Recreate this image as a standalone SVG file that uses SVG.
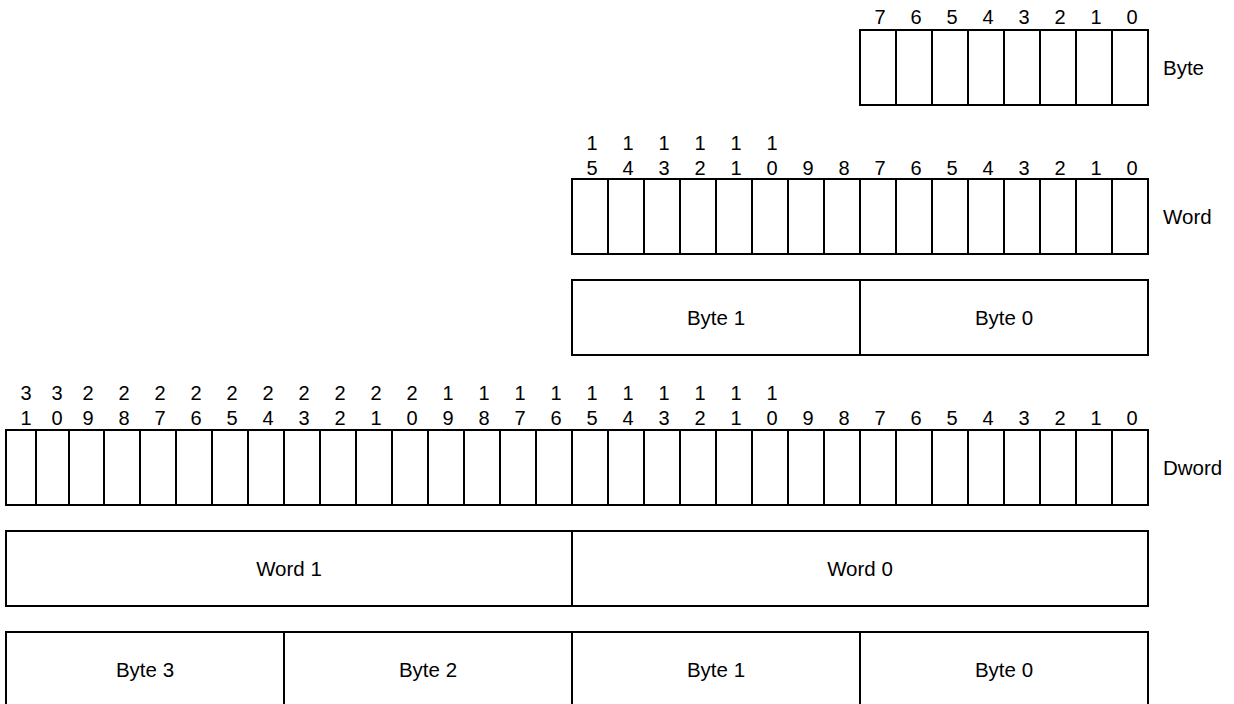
<svg xmlns="http://www.w3.org/2000/svg" width="1234" height="704" viewBox="0 0 1234 704">
<style>
.c{fill:#fff;stroke:#000;stroke-width:2}
.l{stroke:#000;stroke-width:2}
.d{font-family:"Liberation Sans",Arial,sans-serif;font-size:20px;fill:#000;text-anchor:middle}
.t{font-family:"Liberation Sans",Arial,sans-serif;font-size:20.5px;fill:#000}
.m{text-anchor:middle}
</style>
<rect width="1234" height="704" fill="#fff"/>

<g id="byte">
<rect class="c" x="860" y="30" width="288" height="75"/>
<g class="l">
<line x1="896" y1="30" x2="896" y2="105"/><line x1="932" y1="30" x2="932" y2="105"/><line x1="968" y1="30" x2="968" y2="105"/><line x1="1004" y1="30" x2="1004" y2="105"/><line x1="1040" y1="30" x2="1040" y2="105"/><line x1="1076" y1="30" x2="1076" y2="105"/><line x1="1112" y1="30" x2="1112" y2="105"/>
</g>
<g class="d">
<text x="880" y="24">7</text><text x="916" y="24">6</text><text x="952" y="24">5</text><text x="988" y="24">4</text><text x="1024" y="24">3</text><text x="1060" y="24">2</text><text x="1096" y="24">1</text><text x="1132" y="24">0</text>
</g>
<text class="t" x="1163" y="75">Byte</text>
</g>

<g id="word">
<rect class="c" x="572" y="179" width="576" height="75"/>
<g class="l">
<line x1="608" y1="179" x2="608" y2="254"/><line x1="644" y1="179" x2="644" y2="254"/><line x1="680" y1="179" x2="680" y2="254"/><line x1="716" y1="179" x2="716" y2="254"/><line x1="752" y1="179" x2="752" y2="254"/><line x1="788" y1="179" x2="788" y2="254"/><line x1="824" y1="179" x2="824" y2="254"/><line x1="860" y1="179" x2="860" y2="254"/><line x1="896" y1="179" x2="896" y2="254"/><line x1="932" y1="179" x2="932" y2="254"/><line x1="968" y1="179" x2="968" y2="254"/><line x1="1004" y1="179" x2="1004" y2="254"/><line x1="1040" y1="179" x2="1040" y2="254"/><line x1="1076" y1="179" x2="1076" y2="254"/><line x1="1112" y1="179" x2="1112" y2="254"/>
</g>
<g class="d">
<text x="592" y="150">1</text><text x="628" y="150">1</text><text x="664" y="150">1</text><text x="700" y="150">1</text><text x="736" y="150">1</text><text x="772" y="150">1</text>
<text x="592" y="175">5</text><text x="628" y="175">4</text><text x="664" y="175">3</text><text x="700" y="175">2</text><text x="736" y="175">1</text><text x="772" y="175">0</text><text x="808" y="175">9</text><text x="844" y="175">8</text><text x="880" y="175">7</text><text x="916" y="175">6</text><text x="952" y="175">5</text><text x="988" y="175">4</text><text x="1024" y="175">3</text><text x="1060" y="175">2</text><text x="1096" y="175">1</text><text x="1132" y="175">0</text>
</g>
<text class="t" x="1163" y="224">Word</text>
</g>

<g id="word-bytes">
<rect class="c" x="572" y="280" width="576" height="75"/>
<line class="l" x1="860" y1="280" x2="860" y2="355"/>
<text class="t m" x="716" y="325">Byte 1</text>
<text class="t m" x="1004" y="325">Byte 0</text>
</g>

<g id="dword">
<rect class="c" x="6" y="430" width="1142" height="75"/>
<g class="l">
<line x1="36" y1="430" x2="36" y2="505"/><line x1="69" y1="430" x2="69" y2="505"/><line x1="104" y1="430" x2="104" y2="505"/><line x1="140" y1="430" x2="140" y2="505"/><line x1="176" y1="430" x2="176" y2="505"/><line x1="212" y1="430" x2="212" y2="505"/><line x1="248" y1="430" x2="248" y2="505"/><line x1="284" y1="430" x2="284" y2="505"/><line x1="320" y1="430" x2="320" y2="505"/><line x1="356" y1="430" x2="356" y2="505"/><line x1="392" y1="430" x2="392" y2="505"/><line x1="428" y1="430" x2="428" y2="505"/><line x1="464" y1="430" x2="464" y2="505"/><line x1="500" y1="430" x2="500" y2="505"/><line x1="536" y1="430" x2="536" y2="505"/><line x1="572" y1="430" x2="572" y2="505"/><line x1="608" y1="430" x2="608" y2="505"/><line x1="644" y1="430" x2="644" y2="505"/><line x1="680" y1="430" x2="680" y2="505"/><line x1="716" y1="430" x2="716" y2="505"/><line x1="752" y1="430" x2="752" y2="505"/><line x1="788" y1="430" x2="788" y2="505"/><line x1="824" y1="430" x2="824" y2="505"/><line x1="860" y1="430" x2="860" y2="505"/><line x1="896" y1="430" x2="896" y2="505"/><line x1="932" y1="430" x2="932" y2="505"/><line x1="968" y1="430" x2="968" y2="505"/><line x1="1004" y1="430" x2="1004" y2="505"/><line x1="1040" y1="430" x2="1040" y2="505"/><line x1="1076" y1="430" x2="1076" y2="505"/><line x1="1112" y1="430" x2="1112" y2="505"/>
</g>
<g class="d">
<text x="26" y="400">3</text><text x="57" y="400">3</text><text x="88" y="400">2</text><text x="124" y="400">2</text><text x="160" y="400">2</text><text x="196" y="400">2</text><text x="232" y="400">2</text><text x="268" y="400">2</text><text x="304" y="400">2</text><text x="340" y="400">2</text><text x="376" y="400">2</text><text x="412" y="400">2</text><text x="448" y="400">1</text><text x="484" y="400">1</text><text x="520" y="400">1</text><text x="556" y="400">1</text><text x="592" y="400">1</text><text x="628" y="400">1</text><text x="664" y="400">1</text><text x="700" y="400">1</text><text x="736" y="400">1</text><text x="772" y="400">1</text>
<text x="26" y="425">1</text><text x="57" y="425">0</text><text x="88" y="425">9</text><text x="124" y="425">8</text><text x="160" y="425">7</text><text x="196" y="425">6</text><text x="232" y="425">5</text><text x="268" y="425">4</text><text x="304" y="425">3</text><text x="340" y="425">2</text><text x="376" y="425">1</text><text x="412" y="425">0</text><text x="448" y="425">9</text><text x="484" y="425">8</text><text x="520" y="425">7</text><text x="556" y="425">6</text><text x="592" y="425">5</text><text x="628" y="425">4</text><text x="664" y="425">3</text><text x="700" y="425">2</text><text x="736" y="425">1</text><text x="772" y="425">0</text><text x="808" y="425">9</text><text x="844" y="425">8</text><text x="880" y="425">7</text><text x="916" y="425">6</text><text x="952" y="425">5</text><text x="988" y="425">4</text><text x="1024" y="425">3</text><text x="1060" y="425">2</text><text x="1096" y="425">1</text><text x="1132" y="425">0</text>
</g>
<text class="t" x="1163" y="475">Dword</text>
</g>

<g id="dword-words">
<rect class="c" x="6" y="531" width="1142" height="75"/>
<line class="l" x1="572" y1="531" x2="572" y2="606"/>
<text class="t m" x="289" y="576">Word 1</text>
<text class="t m" x="860" y="576">Word 0</text>
</g>

<g id="dword-bytes">
<rect class="c" x="6" y="632" width="1142" height="75"/>
<g class="l">
<line x1="284" y1="632" x2="284" y2="707"/><line x1="572" y1="632" x2="572" y2="707"/><line x1="860" y1="632" x2="860" y2="707"/>
</g>
<text class="t m" x="145" y="677">Byte 3</text>
<text class="t m" x="428" y="677">Byte 2</text>
<text class="t m" x="716" y="677">Byte 1</text>
<text class="t m" x="1004" y="677">Byte 0</text>
</g>

<g id="connectors"></g>
</svg>
